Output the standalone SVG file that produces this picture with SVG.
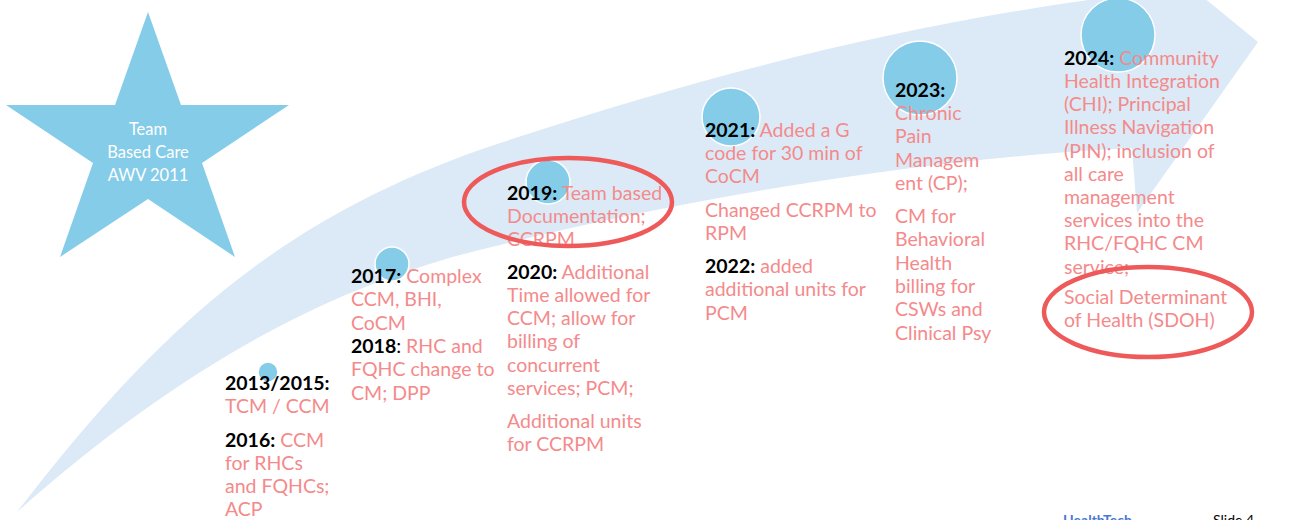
<svg xmlns="http://www.w3.org/2000/svg" width="1291" height="520" viewBox="0 0 1291 520">
  <style>
    .band { fill: #dbeaf6; }
    .dot { fill: #85cce9; stroke: #ffffff; stroke-width: 1.5; }
    .star { fill: #85cce9; }
    .star-label { font-family: Lato, "Open Sans", sans-serif; font-size: 16.5px; fill: #ffffff; text-anchor: middle; }
    .note { font-family: Lato, "Liberation Sans", sans-serif; font-size: 19.5px; fill: #f48a8b; }
    .yr { font-weight: bold; fill: #000000; }
    .plain { fill: #000000; }
    .ring { fill: none; stroke: #ee5a5a; stroke-width: 4.5; }
    .footer { font-family: Lato, "Liberation Sans", sans-serif; font-size: 14px; }
  </style>

  <rect width="1291" height="520" fill="#ffffff"/>

  <!-- sweeping timeline arrow -->
  <g id="connectors">
    <path id="timeline-arrow" class="band"
          d="M17,512 C157,330 280,216 500,143 C720,70 930,18 1150,-8 L1170,-30 L1258,42 L1137,213 L1132,148 C932,158 700,195 500,245 C345,280 190,358 17,512 Z"/>
  </g>

  <!-- star -->
  <g id="star-2011">
    <polygon class="star" points="148,12 181,105 289,105 202,163 235,257 148,199 60,257 93,163 6,105 115,105"/>
    <text class="star-label" x="148" y="135">Team</text>
    <text class="star-label" x="148" y="158">Based Care</text>
    <text class="star-label" x="148" y="181">AWV 2011</text>
  </g>

  <!-- milestone markers -->
  <g id="markers">
    <circle class="dot" cx="268" cy="372" r="10"/>
    <circle class="dot" cx="392" cy="264" r="17"/>
    <circle class="dot" cx="548" cy="182" r="22"/>
    <circle class="dot" cx="731" cy="117" r="29"/>
    <circle class="dot" cx="920" cy="78" r="37"/>
    <circle class="dot" cx="1118" cy="35" r="37"/>
  </g>

  <g id="node-2013-2016" class="note">
    <text x="225" y="390"><tspan class="yr">2013/2015:</tspan></text>
    <text x="225" y="413">TCM / CCM</text>
    <text x="225" y="447"><tspan class="yr">2016:</tspan> CCM</text>
    <text x="225" y="470">for RHCs</text>
    <text x="225" y="493">and FQHCs;</text>
    <text x="225" y="516">ACP</text>
  </g>

  <g id="node-2017-2018" class="note">
    <text x="351" y="283"><tspan class="yr">2017:</tspan> Complex</text>
    <text x="351" y="306">CCM, BHI,</text>
    <text x="351" y="330">CoCM</text>
    <text x="351" y="353"><tspan class="yr">2018</tspan><tspan class="plain">:</tspan> RHC and</text>
    <text x="351" y="376">FQHC change to</text>
    <text x="351" y="400">CM; DPP</text>
  </g>

  <g id="node-2019-2020" class="note">
    <text x="507" y="200"><tspan class="yr">2019:</tspan> Team based</text>
    <text x="507" y="223">Documentation;</text>
    <text x="507" y="246">CCRPM</text>
    <text x="507" y="279"><tspan class="yr">2020:</tspan> Additional</text>
    <text x="507" y="302">Time allowed for</text>
    <text x="507" y="325">CCM; allow for</text>
    <text x="507" y="348">billing of</text>
    <text x="507" y="372">concurrent</text>
    <text x="507" y="395">services; PCM;</text>
    <text x="507" y="428">Additional units</text>
    <text x="507" y="451">for CCRPM</text>
  </g>

  <g id="node-2021-2022" class="note">
    <text x="705" y="137"><tspan class="yr">2021:</tspan> Added a G</text>
    <text x="705" y="160">code for 30 min of</text>
    <text x="705" y="183">CoCM</text>
    <text x="705" y="217">Changed CCRPM to</text>
    <text x="705" y="240">RPM</text>
    <text x="705" y="273"><tspan class="yr">2022:</tspan> added</text>
    <text x="705" y="296">additional units for</text>
    <text x="705" y="320">PCM</text>
  </g>

  <g id="node-2023" class="note">
    <text x="895" y="97"><tspan class="yr">2023:</tspan></text>
    <text x="895" y="120">Chronic</text>
    <text x="895" y="143">Pain</text>
    <text x="895" y="167">Managem</text>
    <text x="895" y="190">ent (CP);</text>
    <text x="895" y="223">CM for</text>
    <text x="895" y="246">Behavioral</text>
    <text x="895" y="270">Health</text>
    <text x="895" y="293">billing for</text>
    <text x="895" y="316">CSWs and</text>
    <text x="895" y="340">Clinical Psy</text>
  </g>

  <g id="node-2024" class="note">
    <text x="1064" y="65"><tspan class="yr">2024:</tspan> Community</text>
    <text x="1064" y="88">Health Integration</text>
    <text x="1064" y="111">(CHI); Principal</text>
    <text x="1064" y="134">Illness Navigation</text>
    <text x="1064" y="158">(PIN); inclusion of</text>
    <text x="1064" y="181">all care</text>
    <text x="1064" y="204">management</text>
    <text x="1064" y="227">services into the</text>
    <text x="1064" y="250">RHC/FQHC CM</text>
    <text x="1064" y="274">service;</text>
    <text x="1064" y="304">Social Determinant</text>
    <text x="1064" y="327">of Health (SDOH)</text>
  </g>

  <!-- highlight rings -->
  <g id="highlights">
    <ellipse class="ring" cx="568" cy="202" rx="104" ry="44"/>
    <ellipse class="ring" cx="1148" cy="312" rx="104" ry="45"/>
  </g>

  <g id="footer" class="footer">
    <text x="1063" y="525" fill="#4a78d6" font-weight="bold">HealthTech</text>
    <text x="1213" y="525" fill="#000000">Slide 4</text>
  </g>
</svg>
